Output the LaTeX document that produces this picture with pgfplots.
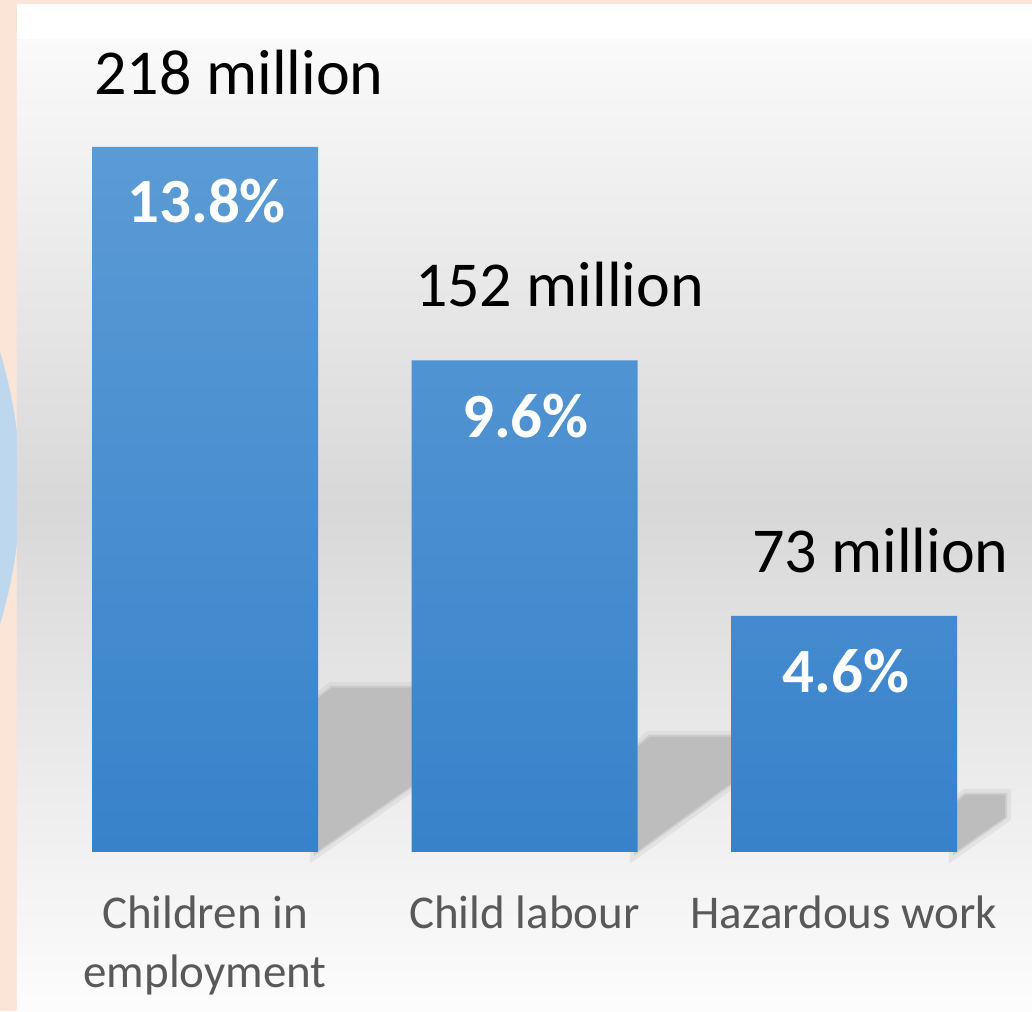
\documentclass[border=0pt]{standalone}
\usepackage{pgfplots}
\pgfplotsset{compat=1.18}
\usepackage{fontspec}
\setmainfont{Carlito}
\definecolor{peach}{HTML}{FBE5D6}
\definecolor{circblue}{HTML}{BDD7EE}
\definecolor{barTop}{HTML}{5B9BD5}
\definecolor{barBot}{HTML}{3882CB}
\definecolor{catgray}{HTML}{595959}
\definecolor{bgmid}{HTML}{D8D8D8}
\definecolor{shadowc}{HTML}{BDBDBD}
\begin{document}
\begin{tikzpicture}
\begin{axis}[
  set layers,
  width=516pt, height=505.5pt, scale only axis,
  xmin=-0.64163, xmax=2.58842,
  ymin=-49.165, ymax=263.45,
  axis line style={draw=none},
  major tick length=0pt,
  ytick=\empty,
  xtick={0,1,2},
  xticklabels={{Children in\\employment},{Child labour},{Hazardous work}},
  xticklabel style={anchor=north, align=center, inner sep=0pt, yshift=58pt,
    font=\fontsize{23.5}{29.5}\selectfont, text=catgray},
  clip=false,
  shadowstyle/.style={fill=shadowc, draw=shadowc, line width=2pt, draw opacity=0.5,
     preaction={draw=shadowc, line width=6pt, draw opacity=0.25}},
]
% background
\begin{pgfonlayer}{axis background}
\fill[peach] (rel axis cs:0,0) rectangle (rel axis cs:1,1);
\begin{scope}
\clip (rel axis cs:0,0) rectangle (rel axis cs:1,1);
\fill[circblue, overlay] (rel axis cs:-0.432,0.5173) circle (233pt);
\end{scope}
\fill[white] (rel axis cs:0.01647,0.96) rectangle (rel axis cs:1,0.99604);
\shade[top color=white!98!black, bottom color=bgmid] (rel axis cs:0.01647,0.50) rectangle (rel axis cs:1,0.9605);
\shade[top color=bgmid, bottom color=white!99!black] (rel axis cs:0.01647,0) rectangle (rel axis cs:1,0.5005);
\end{pgfonlayer}
% shadows
\addplot[shadowstyle] coordinates {(0.3474,0) (0.3537,47.5) (0.3962,50.71) (0.7668,50.71) (0.7668,28.76)} --cycle;
\addplot[shadowstyle] coordinates {(1.3490,0) (1.3552,32.5) (1.3915,35.56) (1.7371,35.56) (1.7371,27.83)} --cycle;
\addplot[shadowstyle] coordinates {(2.3474,0) (2.3537,15.5) (2.3800,17.63) (2.5039,17.63) (2.5039,10.82)} --cycle;
% bars
\addplot[ybar, bar width=113pt, bar shift=0pt, draw=none, top color=barTop, bottom color=barBot]
  coordinates {(0,218) (1,152) (2,73)};
% labels
\node[anchor=base, font=\fontsize{32}{38}\selectfont] at (axis cs:0.1064,234.08) {218 million};
\node[anchor=base, font=\fontsize{32}{38}\selectfont] at (axis cs:1.1096,168.52) {152 million};
\node[anchor=base, font=\fontsize{32}{38}\selectfont] at (axis cs:2.114,86.27) {73 million};
\node[anchor=base, text=white, font=\fontsize{31.5}{38}\selectfont\bfseries] at (axis cs:0.005,194.8) {13.8\%};
\node[anchor=base, text=white, font=\fontsize{31.5}{38}\selectfont\bfseries] at (axis cs:1.003,128.3) {9.6\%};
\node[anchor=base, text=white, font=\fontsize{31.5}{38}\selectfont\bfseries] at (axis cs:2.005,49.17) {4.6\%};
\end{axis}
\pgfresetboundingbox
\path[use as bounding box] (current axis.south west) rectangle (current axis.north east);
\end{tikzpicture}
\end{document}
